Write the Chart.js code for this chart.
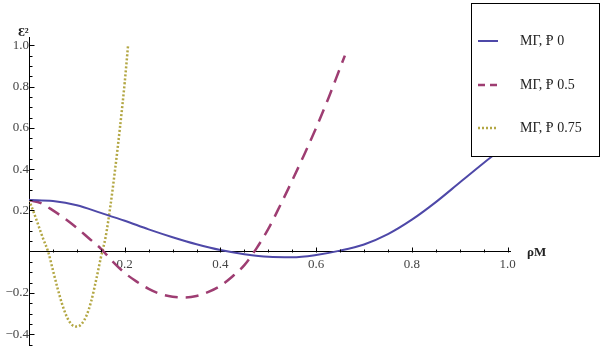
<!DOCTYPE html>
<html>
<head>
<meta charset="utf-8">
<script src="https://cdn.jsdelivr.net/npm/chart.js"></script>
<style>
  body { margin: 0; background: #fff; }
  #wrap { width: 608px; height: 346px; }
</style>
</head>
<body>
<div id="wrap"><canvas id="plot" width="608" height="346"></canvas></div>
<script>
// series data
const seriesLabels = ["ΜΓ, Ᵽ 0", "ΜΓ, Ᵽ 0.5", "ΜΓ, Ᵽ 0.75"];

const xBlue = [0, 0.05, 0.1, 0.15, 0.2, 0.25, 0.3, 0.35, 0.4, 0.45, 0.5,
               0.55, 0.6, 0.65, 0.7, 0.75, 0.8, 0.85, 0.9, 0.95, 1.0];
const yBlue = [0.25, 0.245, 0.225, 0.188, 0.15, 0.108, 0.07, 0.036, 0.008, -0.012, -0.025,
               -0.027, -0.016, 0.005, 0.035, 0.085, 0.155, 0.24, 0.335, 0.43, 0.52];

const xDash = [0, 0.025, 0.05, 0.075, 0.1, 0.125, 0.15, 0.175, 0.2, 0.225, 0.25,
               0.275, 0.3, 0.325, 0.35, 0.375, 0.4, 0.425, 0.45, 0.475, 0.5,
               0.525, 0.55, 0.575, 0.6, 0.625, 0.65, 0.66];
const yDash = [0.25, 0.235, 0.2, 0.16, 0.115, 0.065, 0.015, -0.048, -0.103, -0.145, -0.18,
               -0.205, -0.218, -0.222, -0.215, -0.195, -0.165, -0.12, -0.065, 0.015, 0.11,
               0.225, 0.345, 0.47, 0.6, 0.74, 0.89, 0.95];

const xDot = [0, 0.01, 0.02, 0.03, 0.04, 0.05, 0.06, 0.07, 0.08, 0.09, 0.1,
              0.11, 0.12, 0.13, 0.14, 0.15, 0.16, 0.17, 0.18, 0.19, 0.2, 0.207];
const yDot = [0.25, 0.19, 0.125, 0.06, 0, -0.09, -0.18, -0.26, -0.32, -0.355, -0.363,
              -0.35, -0.31, -0.24, -0.14, -0.03, 0.07, 0.22, 0.4, 0.6, 0.82, 1.0];

const yMajor = [-0.4, -0.2, 0.2, 0.4, 0.6, 0.8, 1.0];
const xMajor = [0.2, 0.4, 0.6, 0.8, 1.0];

function pts(xs, ys) {
  return xs.map((x, i) => ({ x: x, y: ys[i] }));
}
function isMajor(v, list) {
  return list.some(m => Math.abs(m - v) < 1e-6);
}
function fmt(v) {
  const s = v.toFixed(1);
  return v < 0 ? "\u2212" + s.slice(1) : s;
}
// every 0.05 between lo and hi, used for the small inward tick marks
function tickValues(lo, hi) {
  const out = [];
  for (let k = Math.ceil(lo / 0.05); k * 0.05 <= hi + 1e-9; k++) out.push(k * 0.05);
  return out;
}

// ticks pointing inward, like the original axes
const axisTicks = {
  id: "axisTicks",
  afterDraw(chart) {
    const c = chart.ctx, xs = chart.scales.x, ys = chart.scales.y;
    const x0 = Math.round(xs.getPixelForValue(0)) + 0.5;
    const y0 = Math.round(ys.getPixelForValue(0)) + 0.5;
    c.save();
    c.setLineDash([]);
    c.strokeStyle = "#000";
    c.lineWidth = 1;
    c.beginPath();
    tickValues(xs.min, xs.max).forEach(v => {
      if (Math.abs(v) < 1e-6) return;
      const p = Math.round(xs.getPixelForValue(v)) + 0.5;
      const len = isMajor(v, xMajor) ? 5 : 3;
      c.moveTo(p, y0); c.lineTo(p, y0 - len);
    });
    tickValues(ys.min, ys.max).forEach(v => {
      if (Math.abs(v) < 1e-6) return;
      const p = Math.round(ys.getPixelForValue(v)) + 0.5;
      const len = isMajor(v, yMajor) ? 5 : 3;
      c.moveTo(x0, p); c.lineTo(x0 + len, p);
    });
    c.stroke();

    // axis names at the axis ends
    c.fillStyle = "#222";
    c.font = "bold 13px 'Liberation Serif'";
    c.textBaseline = "middle";
    c.textAlign = "left";
    c.fillText("Ɛ²", 18, 33);
    c.fillText("ρΜ", 527, y0);
    c.restore();
  }
};

// boxed legend in the top right corner
const boxLegend = {
  id: "boxLegend",
  afterDraw(chart) {
    const c = chart.ctx;
    c.save();
    c.fillStyle = "#fff";
    c.fillRect(471, 3, 128, 153);
    c.strokeStyle = "#000";
    c.lineWidth = 1;
    c.strokeRect(471.5, 3.5, 128, 153);
    const rows = [41, 85, 128];
    chart.data.datasets.forEach((ds, i) => {
      c.strokeStyle = ds.borderColor;
      c.lineWidth = ds.borderWidth;
      c.setLineDash(i === 0 ? [] : i === 1 ? [7, 5] : [2, 2]);
      c.beginPath();
      c.moveTo(478, rows[i]); c.lineTo(498, rows[i]);
      c.stroke();
      c.setLineDash([]);
      c.fillStyle = "#222";
      c.font = "14px 'Liberation Serif'";
      c.textBaseline = "middle";
      c.fillText(ds.label, 520, rows[i]);
    });
    c.restore();
  }
};

const ctx = document.getElementById("plot").getContext("2d");
const chart = new Chart(ctx, {
  type: "line",
  data: {
    datasets: [{
      label: seriesLabels[0],
      data: pts(xBlue, yBlue),
      borderColor: "#4e48a8",
      borderWidth: 2,
      pointRadius: 0,
      cubicInterpolationMode: "monotone"
    }, {
      label: seriesLabels[1],
      data: pts(xDash, yDash),
      borderColor: "#9e3d72",
      borderWidth: 2.5,
      borderDash: [13, 8],
      pointRadius: 0,
      cubicInterpolationMode: "monotone"
    }, {
      label: seriesLabels[2],
      data: pts(xDot, yDot),
      borderColor: "#b3a744",
      borderWidth: 2.5,
      borderDash: [2, 2],
      pointRadius: 0,
      cubicInterpolationMode: "monotone"
    }]
  },
  options: {
    responsive: false,
    animation: false,
    layout: { padding: { left: 29, right: 98, top: 37, bottom: 0 } },
    plugins: { legend: { display: false }, tooltip: { enabled: false } },
    scales: {
      x: {
        type: "linear",
        position: { y: 0 },
        min: 0,
        max: 1.005,
        afterBuildTicks: s => { s.ticks = xMajor.map(v => ({ value: v })); },
        afterFit: s => { s.paddingLeft = 0; s.paddingRight = 0; },
        grid: { display: false, drawTicks: false },
        border: { display: true, color: "#000", width: 1 },
        ticks: {
          autoSkip: false,
          maxRotation: 0,
          padding: 5,
          color: "#444",
          font: { family: "'Liberation Serif'", size: 13 },
          callback: v => fmt(v)
        }
      },
      y: {
        type: "linear",
        position: { x: 0 },
        min: -0.457,
        max: 1.04,
        afterBuildTicks: s => { s.ticks = yMajor.map(v => ({ value: v })); },
        afterFit: s => { s.paddingTop = 0; s.paddingBottom = 0; },
        grid: { display: false, drawTicks: false },
        border: { display: true, color: "#000", width: 1 },
        ticks: {
          autoSkip: false,
          padding: 4,
          color: "#444",
          font: { family: "'Liberation Serif'", size: 13 },
          callback: v => fmt(v)
        }
      }
    }
  },
  plugins: [axisTicks, boxLegend]
});
</script>
</body>
</html>
